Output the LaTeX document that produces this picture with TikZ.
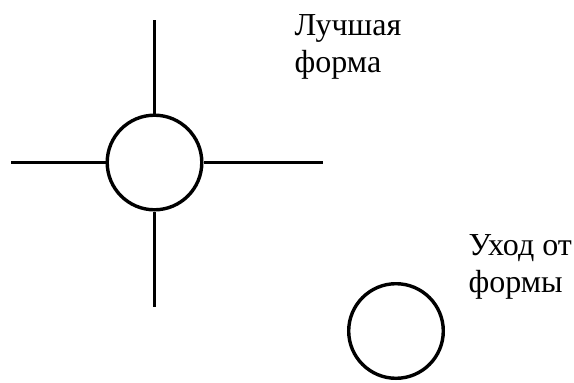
\documentclass[tikz,border=0pt]{standalone}
\usepackage{fontspec}
\setmainfont{Liberation Serif}
\usetikzlibrary{positioning}

\begin{document}
\begin{tikzpicture}[x=1pt,y=-1pt,line width=3.4pt,
  form/.style={draw,circle,inner sep=0pt,minimum size=94.6pt},
  label/.style={align=left,anchor=base west,inner sep=0pt,
    font=\fontsize{32}{37}\selectfont}]
  \useasboundingbox (0,0) rectangle (574,383);
  \node (best) [form] at (154.5,162.5) {};
  \node (away) [form] at (396,331) {};

  % arms of the cross
  \coordinate (top) at (154.5,20);
  \coordinate (bottom) at (154.5,307);
  \coordinate (left) at (11,162.5);
  \coordinate (right) at (323,162.5);
  \draw (top) -- (best.north);
  \draw (best.south) -- (bottom);
  \draw (left) -- (best.west);
  \draw (best.east) -- (right);

  % base is the baseline of the last line
  \node (bestlabel) [label] at (293,72) {Лучшая\\форма};
  \node (awaylabel) [label] at (467,292) {Уход от\\формы};
\end{tikzpicture}
\end{document}
